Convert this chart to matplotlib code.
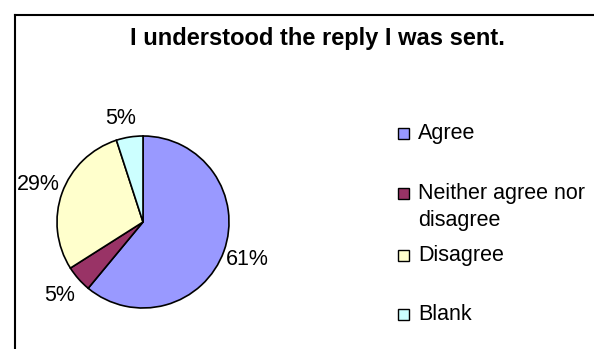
import matplotlib
matplotlib.use("Agg")
import matplotlib.pyplot as plt
from matplotlib.patches import Rectangle
from matplotlib.lines import Line2D

plt.rcParams['font.family'] = ['Liberation Sans', 'DejaVu Sans']

title = "I understood the reply I was sent."
categories = ["Agree", "Neither agree nor\ndisagree", "Disagree", "Blank"]
values = [61, 5, 29, 5]
colors = ["#9999FF", "#993366", "#FFFFCC", "#CCFFFF"]

W, H = 594, 349
fig = plt.figure(figsize=(W / 100, H / 100), dpi=100)

def fx(px):
    return px / W

def fy(py):
    return 1 - py / H

# outer chart frame (left and top edges visible)
fig.add_artist(Line2D([fx(15), fx(15)], [fy(15), fy(H + 5)], color="black", lw=1.5,
                      transform=fig.transFigure))
fig.add_artist(Line2D([fx(15), fx(W + 5)], [fy(15), fy(15)], color="black", lw=1.5,
                      transform=fig.transFigure))

fig.text(fx(317), fy(38), title, ha="center", va="center", fontsize=17,
         fontweight="bold")

# pie: centre (143, 222), radius 86 px
cx, cy, r = 143, 222, 86
ax = fig.add_axes([fx(cx - r), fy(cy + r), 2 * r / W, 2 * r / H])
wedges, texts = ax.pie(values, colors=colors, startangle=90, counterclock=False,
                       wedgeprops=dict(edgecolor="black", linewidth=1.2),
                       labels=[f"{v}%" for v in values], labeldistance=1.29,
                       textprops=dict(fontsize=15.5))
for t in texts:
    t.set_ha("center")
    t.set_va("center")
# the label of the small top wedge sits a little closer to the rim
x0, y0 = texts[-1].get_position()
texts[-1].set_position((x0 * 1.3, y0 * 1.22 / 1.29))
ax.set_aspect("auto")
ax.set_xlim(-1, 1)
ax.set_ylim(-1, 1)

# legend
leg_y = [133, 193, 255, 314]
for cat, col, y in zip(categories, colors, leg_y):
    fig.add_artist(Rectangle((fx(398), fy(y + 6)), 11 / W, 11 / H, facecolor=col,
                             edgecolor="black", lw=1.0, transform=fig.transFigure))
    lines = cat.split("\n")
    for i, line in enumerate(lines):
        fig.text(fx(418), fy(y + i * 28), line, ha="left", va="center", fontsize=15.5)

fig.savefig("out.png", dpi=100)
